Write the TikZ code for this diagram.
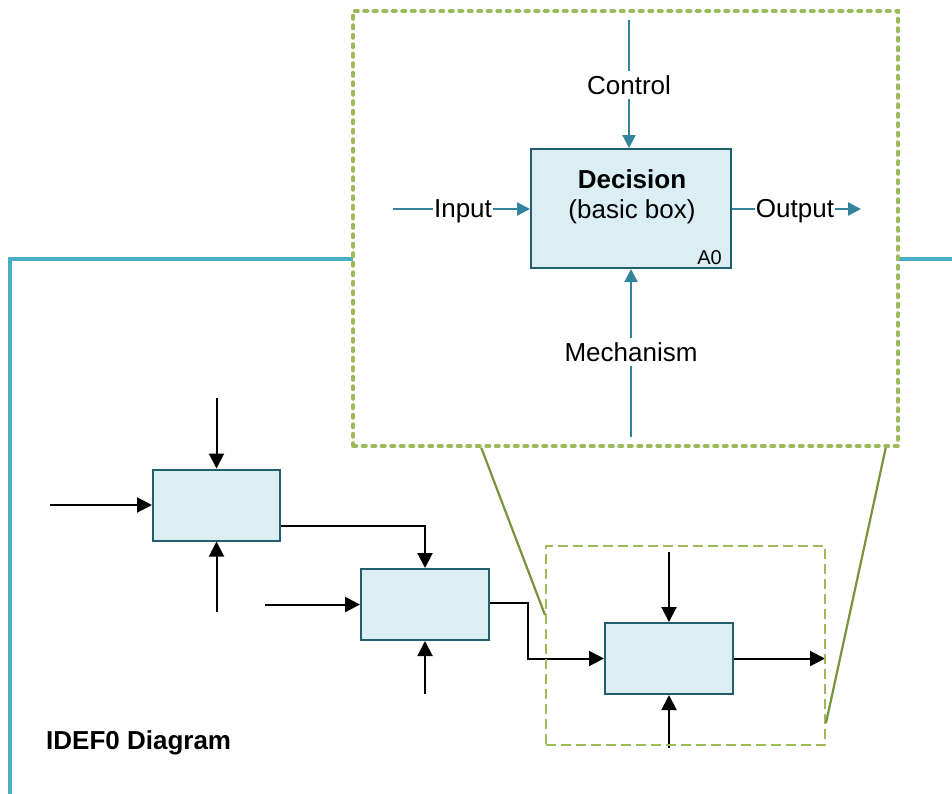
\documentclass[tikz,border=0pt]{standalone}
\usepackage{fontspec}
\setmainfont{Liberation Sans}
\usepackage{xcolor}
\usetikzlibrary{arrows.meta}
\definecolor{framecol}{HTML}{4BACC6}
\definecolor{calloutcol}{HTML}{9BBB59}
\definecolor{pointercol}{HTML}{77933C}
\definecolor{boxfill}{HTML}{DAEEF3}
\definecolor{boxline}{HTML}{215E6E}
\definecolor{arrowcol}{HTML}{31849B}

\begin{document}
\begin{tikzpicture}[x=1pt,y=-1pt,
  bigfont/.style={font=\fontsize{26}{31}\selectfont},
  arrowlabel/.style={bigfont,inner xsep=1pt,inner ysep=4pt},
  basicbox/.style={draw=boxline,fill=boxfill,line width=2pt,minimum width=200pt,minimum height=119pt,inner sep=0pt},
  smallbox/.style={draw=boxline,fill=boxfill,line width=2pt,minimum width=127pt,minimum height=71pt,inner sep=0pt},
  tealline/.style={draw=arrowcol,line width=2.2pt},
  tealarrow/.style={tealline,-{Triangle[length=13pt,width=13pt]}},
  blackarrow/.style={line width=2pt,-{Triangle[length=15pt,width=15pt]}},
  calloutbox/.style={draw=calloutcol,fill=white,line width=3.5pt,dash pattern=on 3.5pt off 6pt,line cap=round,minimum width=545pt,minimum height=435pt,inner sep=0pt},
  zoombox/.style={draw=calloutcol,line width=2pt,dash pattern=on 10pt off 5pt,minimum width=279pt,minimum height=199pt,inner sep=0pt},
  pointer/.style={draw=pointercol,line width=2.2pt}]
  \clip (0,0) rectangle (952,793);

  \draw[framecol,line width=4pt] (10,800) -- (10,259) -- (960,259);

  \node[calloutbox] (callout) at (625.5,228.5) {};

  \node[basicbox] (a0) at (631,208.5) {};
  \node[bigfont] (name) at (632,179) {\textbf{Decision}};
  \node[bigfont] (kind) at (632,212) {(basic box)};
  \node[font=\fontsize{20}{24}\selectfont,anchor=south east,inner xsep=10pt,inner ysep=4pt] (num) at (a0.south east) {A0};

  \coordinate (ctrltop) at (629,20);
  \node[arrowlabel] (ctrl) at (629,85) {Control};
  \draw[tealline] (ctrltop) -- (ctrl);
  \draw[tealarrow] (ctrl) -- (ctrl |- a0.north);

  \coordinate (inleft) at (393,209);
  \node[arrowlabel] (in) at (463,211) {Input};
  \draw[tealline] (inleft) -- (in.west |- inleft);
  \draw[tealarrow] (in.east |- inleft) -- (inleft -| a0.west);

  \coordinate (outright) at (861,209);
  \node[arrowlabel] (out) at (795,211) {Output};
  \draw[tealline] (outright -| a0.east) -- (out.west |- outright);
  \draw[tealarrow] (out.east |- outright) -- (outright);

  \coordinate (mechbot) at (631,437);
  \node[arrowlabel] (mech) at (631,352) {Mechanism};
  \draw[tealline] (mechbot) -- (mech);
  \draw[tealarrow] (mech) -- (mech |- a0.south);

  \node[smallbox] (b1) at (216.5,505) {};
  \node[smallbox,minimum width=128pt] (b2) at (425,604.5) {};
  \node[smallbox,minimum width=128pt] (b3) at (669,658.5) {};

  \coordinate (b1c) at (216.5,398);
  \coordinate (b1i) at (50,505);
  \coordinate (b1m) at (216.5,612);
  \draw[blackarrow] (b1c) -- (b1.north);
  \draw[blackarrow] (b1i) -- (b1.west);
  \draw[blackarrow] (b1m) -- (b1.south);
  \draw[blackarrow] ([yshift=-21pt]b1.east) -| (b2.north);

  \coordinate (b2i) at (265,604.5);
  \coordinate (b2m) at (425,694);
  \coordinate (b2o) at (528,603);
  \draw[blackarrow] (b2i) -- (b2.west);
  \draw[blackarrow] (b2m) -- (b2.south);
  \draw[blackarrow] ([yshift=1.5pt]b2.east) -- (b2o) |- (b3.west);

  \coordinate (b3c) at (669,552);
  \coordinate (b3m) at (669,748);
  \coordinate (b3o) at (825,658.5);
  \draw[blackarrow] (b3c) -- (b3.north);
  \draw[blackarrow] (b3m) -- (b3.south);
  \draw[blackarrow] (b3.east) -- (b3o);

  \node[zoombox] (zoom) at (685.5,645.5) {};
  \draw[pointer] ([xshift=130pt]callout.south west) -- ([yshift=-70pt]zoom.north west);
  \draw[pointer] ([xshift=-14pt]callout.south east) -- ([yshift=23pt]zoom.south east);

  \node[font=\fontsize{26}{31}\selectfont\bfseries,anchor=west,inner sep=0pt] (title) at (46,742.5) {IDEF0 Diagram};
\end{tikzpicture}
\end{document}
